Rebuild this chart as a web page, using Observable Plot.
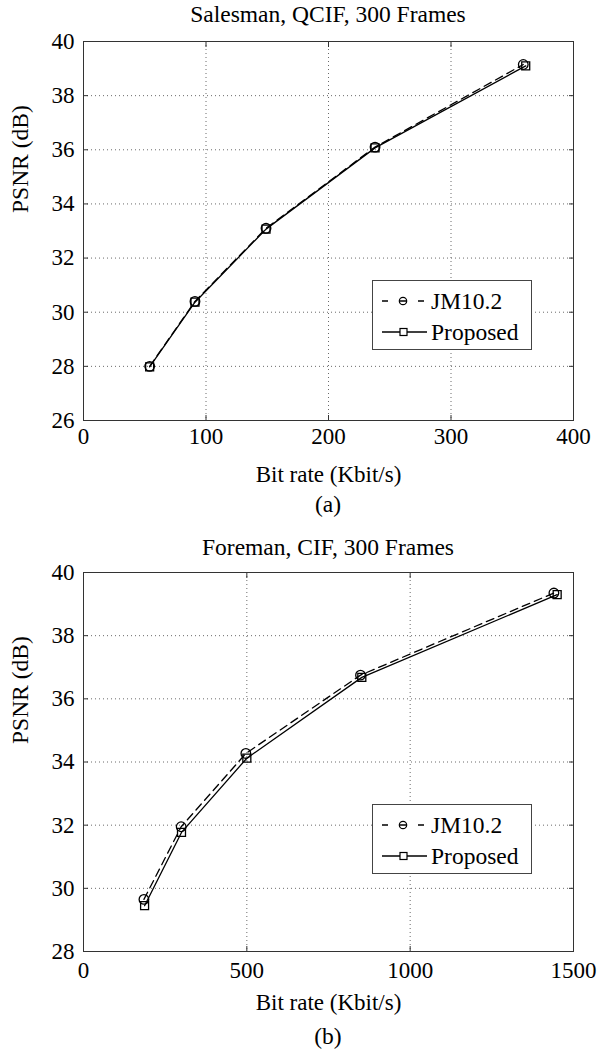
<!DOCTYPE html>
<html><head><meta charset="utf-8">
<script src="https://cdn.jsdelivr.net/npm/d3@7"></script>
<script src="https://cdn.jsdelivr.net/npm/@observablehq/plot@0.6"></script>
<style>
body{margin:0;background:#fff;}
#root{position:relative;width:599px;height:1057px;overflow:hidden;font-family:"Liberation Serif","Times New Roman",serif;color:#000;}
.chart{position:absolute;left:0;}
.chart text{font-family:"Liberation Serif","Times New Roman",serif;}
.txt{position:absolute;left:83px;width:490px;text-align:center;font-size:23.5px;line-height:24px;height:24px;white-space:nowrap;}
#legend{position:absolute;left:0;top:0;pointer-events:none;}
</style></head><body><div id="root"></div>
<script>
// ---- data ----
const seriesNames = ["JM10.2", "Proposed"];

const salesmanTitle = "Salesman, QCIF, 300 Frames";
const salesmanJMRate = [54, 91, 149, 238, 359];
const salesmanJMPsnr = [28.0, 30.4, 33.1, 36.1, 39.15];
const salesmanPropRate = [54, 91, 149, 238, 361];
const salesmanPropPsnr = [27.98, 30.37, 33.07, 36.07, 39.1];
const salesmanXTicks = [0, 100, 200, 300, 400];
const salesmanYTicks = [26, 28, 30, 32, 34, 36, 38, 40];

const foremanTitle = "Foreman, CIF, 300 Frames";
const foremanJMRate = [185, 299, 497, 848, 1440];
const foremanJMPsnr = [29.65, 31.95, 34.27, 36.75, 39.35];
const foremanPropRate = [187, 300, 500, 852, 1450];
const foremanPropPsnr = [29.45, 31.77, 34.12, 36.68, 39.3];
const foremanXTicks = [0, 500, 1000, 1500];
const foremanYTicks = [28, 30, 32, 34, 36, 38, 40];

const xLabel = "Bit rate (Kbit/s)";
const yLabel = "PSNR (dB)";
const captions = ["(a)", "(b)"];

// ---- drawing ----
const FONT = '"Liberation Serif","Times New Roman",serif';
const root = document.getElementById("root");

function makeChart(cfg) {
  const jm = cfg.jmRate.map((x, i) => ({x, y: cfg.jmPsnr[i], s: seriesNames[0]}));
  const pr = cfg.prRate.map((x, i) => ({x, y: cfg.prPsnr[i], s: seriesNames[1]}));
  const grid = {stroke: "#6a6a6a", strokeOpacity: 1, strokeWidth: 1, strokeDasharray: "1,3"};
  const inTick = {tickSize: -5, tickFormat: () => "", label: null, stroke: "#333", strokeWidth: 1};
  const fmt = d => String(d);
  return Plot.plot({
    width: 599, height: cfg.height,
    marginTop: cfg.marginTop, marginBottom: cfg.marginBottom, marginLeft: 83, marginRight: 26,
    style: `font-family:${FONT};font-size:23px;background:transparent;color:#000;overflow:visible;`,
    x: {domain: [cfg.xTicks[0], cfg.xTicks[cfg.xTicks.length - 1]]},
    y: {domain: [cfg.yTicks[0], cfg.yTicks[cfg.yTicks.length - 1]]},
    marks: [
      Plot.gridX(cfg.xTicks, grid),
      Plot.gridY(cfg.yTicks, grid),
      Plot.axisX(cfg.xTicks, {anchor: "bottom", ...inTick}),
      Plot.axisX(cfg.xTicks, {anchor: "top", ...inTick}),
      Plot.axisY(cfg.yTicks, {anchor: "left", ...inTick}),
      Plot.axisY(cfg.yTicks, {anchor: "right", ...inTick}),
      Plot.axisX(cfg.xTicks, {anchor: "bottom", tickSize: 0, tickPadding: cfg.xTickPad, fontSize: 23,
        fontFamily: FONT, tickFormat: fmt,
        label: xLabel, labelAnchor: "center", labelOffset: cfg.xLabelOffset, labelArrow: "none"}),
      Plot.axisY(cfg.yTicks, {anchor: "left", tickSize: 0, tickPadding: 9, fontSize: 23,
        fontFamily: FONT, tickFormat: fmt, label: null}),
      Plot.text([yLabel], {frameAnchor: "left", rotate: -90, dx: -55.5, dy: -18, lineAnchor: "bottom",
        fontSize: 23.5, fontFamily: FONT, fill: "#000"}),
      Plot.line(jm, {x: "x", y: "y", stroke: "#000", strokeWidth: 1.3, strokeDasharray: "8,5"}),
      Plot.line(pr, {x: "x", y: "y", stroke: "#000", strokeWidth: 1.3}),
      Plot.dot(jm, {x: "x", y: "y", r: 4.8, symbol: "circle", stroke: "#000", strokeWidth: 1.3, fill: "none"}),
      Plot.dot(pr, {x: "x", y: "y", r: 4.5, symbol: "square", stroke: "#000", strokeWidth: 1.3, fill: "none"}),
      Plot.frame({stroke: "#333", strokeWidth: 1})
    ]
  });
}

function addText(str, cy) {
  const d = document.createElement("div");
  d.className = "txt";
  d.style.top = (cy - 12) + "px";
  d.textContent = str;
  root.appendChild(d);
}

const charts = [
  {top: 0, height: 500, marginTop: 41, marginBottom: 80, xLabelOffset: 61, xTickPad: 7,
   jmRate: salesmanJMRate, jmPsnr: salesmanJMPsnr, prRate: salesmanPropRate, prPsnr: salesmanPropPsnr,
   xTicks: salesmanXTicks, yTicks: salesmanYTicks, title: salesmanTitle, titleY: 14, capY: 504,
   legendTop: 280},
  {top: 530, height: 527, marginTop: 42, marginBottom: 106, xLabelOffset: 58, xTickPad: 10,
   jmRate: foremanJMRate, jmPsnr: foremanJMPsnr, prRate: foremanPropRate, prPsnr: foremanPropPsnr,
   xTicks: foremanXTicks, yTicks: foremanYTicks, title: foremanTitle, titleY: 547, capY: 1036,
   legendTop: 804}
];

charts.forEach((c, i) => {
  const svg = makeChart(c);
  svg.classList.add("chart");
  svg.style.top = c.top + "px";
  svg.style.position = "absolute";
  root.appendChild(svg);
  addText(c.title, c.titleY);
  addText(captions[i], c.capY);
});

// legends
const lg = d3.select(root).append("svg").attr("id", "legend").attr("width", 599).attr("height", 1057);
charts.forEach(c => {
  const g = lg.append("g").attr("transform", `translate(372,${c.legendTop})`);
  g.append("rect").attr("x", 0.5).attr("y", 0.5).attr("width", 159).attr("height", 69)
    .attr("fill", "#fff").attr("stroke", "#444").attr("stroke-width", 1);
  const rows = [21, 52];
  g.append("line").attr("x1", 10).attr("x2", 52).attr("y1", rows[0]).attr("y2", rows[0])
    .attr("stroke", "#000").attr("stroke-width", 1.3).attr("stroke-dasharray", "6,12,6,12,6");
  g.append("circle").attr("cx", 31).attr("cy", rows[0]).attr("r", 3.7)
    .attr("fill", "none").attr("stroke", "#000").attr("stroke-width", 1.2);
  g.append("line").attr("x1", 10).attr("x2", 55).attr("y1", rows[1]).attr("y2", rows[1])
    .attr("stroke", "#000").attr("stroke-width", 1.3);
  g.append("rect").attr("x", 28).attr("y", rows[1] - 3.5).attr("width", 7).attr("height", 7)
    .attr("fill", "#fff").attr("stroke", "#000").attr("stroke-width", 1.2);
  seriesNames.forEach((n, i) => {
    g.append("text").attr("x", 59).attr("y", rows[i]).attr("dy", "0.33em")
      .attr("font-family", FONT).attr("font-size", 23.5).attr("fill", "#000").text(n);
  });
});
</script></body></html>
